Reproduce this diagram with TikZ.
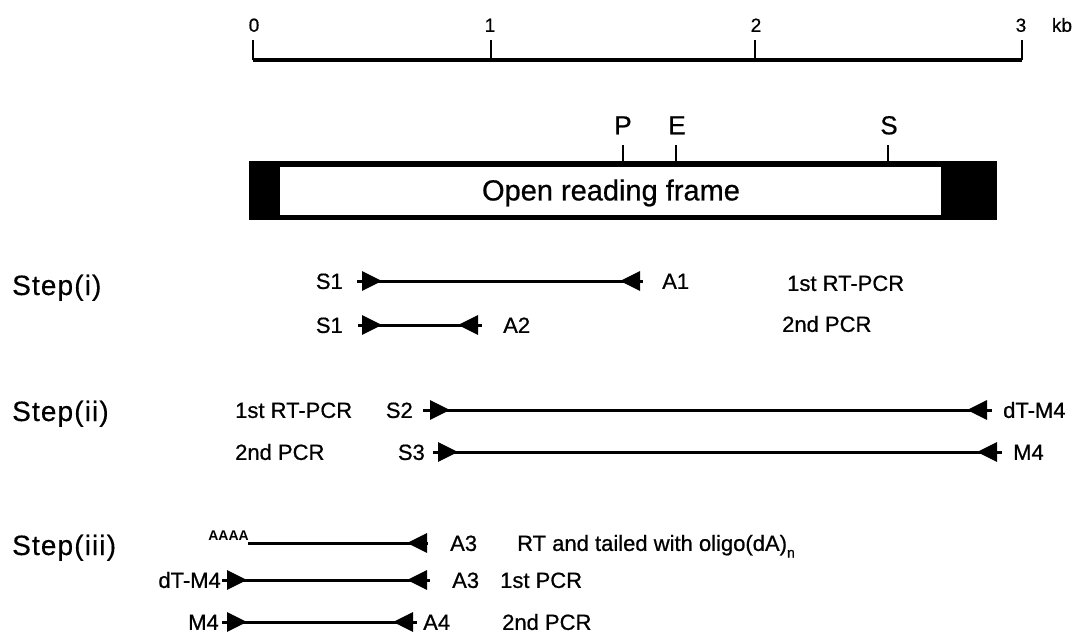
\documentclass[tikz,border=0pt]{standalone}
\usepackage{fontspec}
\setmainfont{Liberation Sans}
\newfontfamily\labfont[FakeBold=0.7]{Liberation Sans}
\newfontfamily\stepfont[LetterSpace=4,FakeBold=0.4]{Liberation Sans}
\usetikzlibrary{arrows.meta,decorations.markings}

\tikzset{
  lab/.style={inner sep=0pt, anchor=west, text height=15.8pt, text depth=0pt,
              font=\labfont\fontsize{22}{22}\selectfont},
  steplab/.style={inner sep=0pt, anchor=west, text height=20pt, text depth=0pt,
              font=\stepfont\fontsize{28}{28}\selectfont},
  scalelab/.style={inner sep=0pt, text height=13.6pt, text depth=0pt,
              font=\labfont\fontsize{19}{19}\selectfont},
  sitelab/.style={inner sep=0pt, text height=18.6pt, text depth=0pt,
              font=\labfont\fontsize{26}{26}\selectfont},
  scaleline/.style={line width=3.4pt},
  tickmark/.style={line width=2pt},
  fragment/.style={line width=3pt},
  fwd/.style={postaction={decorate,decoration={markings,
      mark=at position #1 with {\arrow{Triangle[length=20pt,width=19pt]}}}}},
  rev/.style={postaction={decorate,decoration={markings,
      mark=at position #1 with {\arrowreversed{Triangle[length=20pt,width=19pt]}}}}},
}

\begin{document}
\begin{tikzpicture}[x=1pt,y=-1pt]
\useasboundingbox[fill=white] (0,0) rectangle (1079,634);

% ---- kb scale ----
\coordinate (k0) at (253,60);
\coordinate (k1) at (491,60);
\coordinate (k2) at (755,60);
\coordinate (k3) at (1022,60);
\draw[scaleline] (k0) -- (k3);
\foreach \k in {k0,k1,k2,k3} \draw[tickmark] (\k) -- ++(0,-20);
\node[scalelab] (n0) at (254,25) {0};
\node[scalelab] (n1) at (490,25) {1};
\node[scalelab] (n2) at (756,25) {2};
\node[scalelab] (n3) at (1021,25) {3};
\node[scalelab] (kb) at (1062,25) {kb};

% ---- gene with open reading frame ----
\node[fill=black, inner sep=0pt, anchor=north west,
      minimum width=748pt, minimum height=59pt] (gene) at (249,161) {};
\node[fill=white, inner sep=0pt, anchor=north west,
      minimum width=661pt, minimum height=48pt] (orf) at (280,167) {};
\node[inner sep=0pt, text height=20.8pt, text depth=0pt,
      font=\labfont\fontsize{29}{29}\selectfont] (orftext) at (611,190) {Open reading frame};

% restriction sites
\coordinate (P) at (623,161);
\coordinate (E) at (676,161);
\coordinate (S) at (888,161);
\foreach \s in {P,E,S} \draw[tickmark] (\s) -- ++(0,-16);
\node[sitelab] (Plab) at (623,125) {P};
\node[sitelab] (Elab) at (677,125) {E};
\node[sitelab] (Slab) at (889,125) {S};

% ---- Step (i) ----
\node[steplab] (st1) at (12,285) {Step(i)};
\coordinate (i1a) at (357,281); \coordinate (i1b) at (643,281);
\draw[fragment, fwd=25pt, rev=-23pt] (i1a) -- (i1b);
\node[lab, anchor=east] (S1a) at (343,281) {S1};
\node[lab] (A1) at (662,281) {A1};
\node[lab] (i1t) at (787,283) {1st RT-PCR};

\coordinate (i2a) at (358,325); \coordinate (i2b) at (482,325);
\draw[fragment, fwd=24pt, rev=-24pt] (i2a) -- (i2b);
\node[lab, anchor=east] (S1b) at (343,325) {S1};
\node[lab] (A2) at (503,325) {A2};
\node[lab] (i2t) at (782,324) {2nd PCR};

% ---- Step (ii) ----
\node[steplab] (st2) at (12,411) {Step(ii)};
\node[lab] (ii1t) at (235,410) {1st RT-PCR};
\coordinate (ii1a) at (423,410); \coordinate (ii1b) at (992,410);
\draw[fragment, fwd=27pt, rev=-25pt] (ii1a) -- (ii1b);
\node[lab, anchor=east] (S2) at (413,410) {S2};
\node[lab] (dTM4a) at (1003,410) {dT-M4};

\node[lab] (ii2t) at (235,452) {2nd PCR};
\coordinate (ii2a) at (433,452); \coordinate (ii2b) at (1002,452);
\draw[fragment, fwd=25pt, rev=-25pt] (ii2a) -- (ii2b);
\node[lab, anchor=east] (S3) at (425,452) {S3};
\node[lab] (M4a) at (1013,452) {M4};

% ---- Step (iii) ----
\node[steplab] (st3) at (12,545) {Step(iii)};
\coordinate (iii1a) at (248,543); \coordinate (iii1b) at (428,543);
\draw[fragment, rev=-21pt] (iii1a) -- (iii1b);
\node[inner sep=0pt, anchor=base east, font=\bfseries\fontsize{14}{14}\selectfont]
  (polyA) at (249,540) {AAAA};
\node[lab] (A3a) at (450,543) {A3};
\node[lab] (iii1t) at (517,543)
  {RT and tailed with oligo(dA)\raisebox{-0.3em}{\fontsize{14}{14}\selectfont n}};

\coordinate (iii2a) at (222,580); \coordinate (iii2b) at (430,580);
\draw[fragment, fwd=25pt, rev=-23pt] (iii2a) -- (iii2b);
\node[lab, anchor=east] (dTM4b) at (221,580) {dT-M4};
\node[lab] (A3b) at (452,580) {A3};
\node[lab] (iii2t) at (500,580) {1st PCR};

\coordinate (iii3a) at (222,622); \coordinate (iii3b) at (417,622);
\draw[fragment, fwd=25pt, rev=-24pt] (iii3a) -- (iii3b);
\node[lab, anchor=east] (M4b) at (219,622) {M4};
\node[lab] (A4) at (423,622) {A4};
\node[lab] (iii3t) at (502,622) {2nd PCR};
\end{tikzpicture}
\end{document}
